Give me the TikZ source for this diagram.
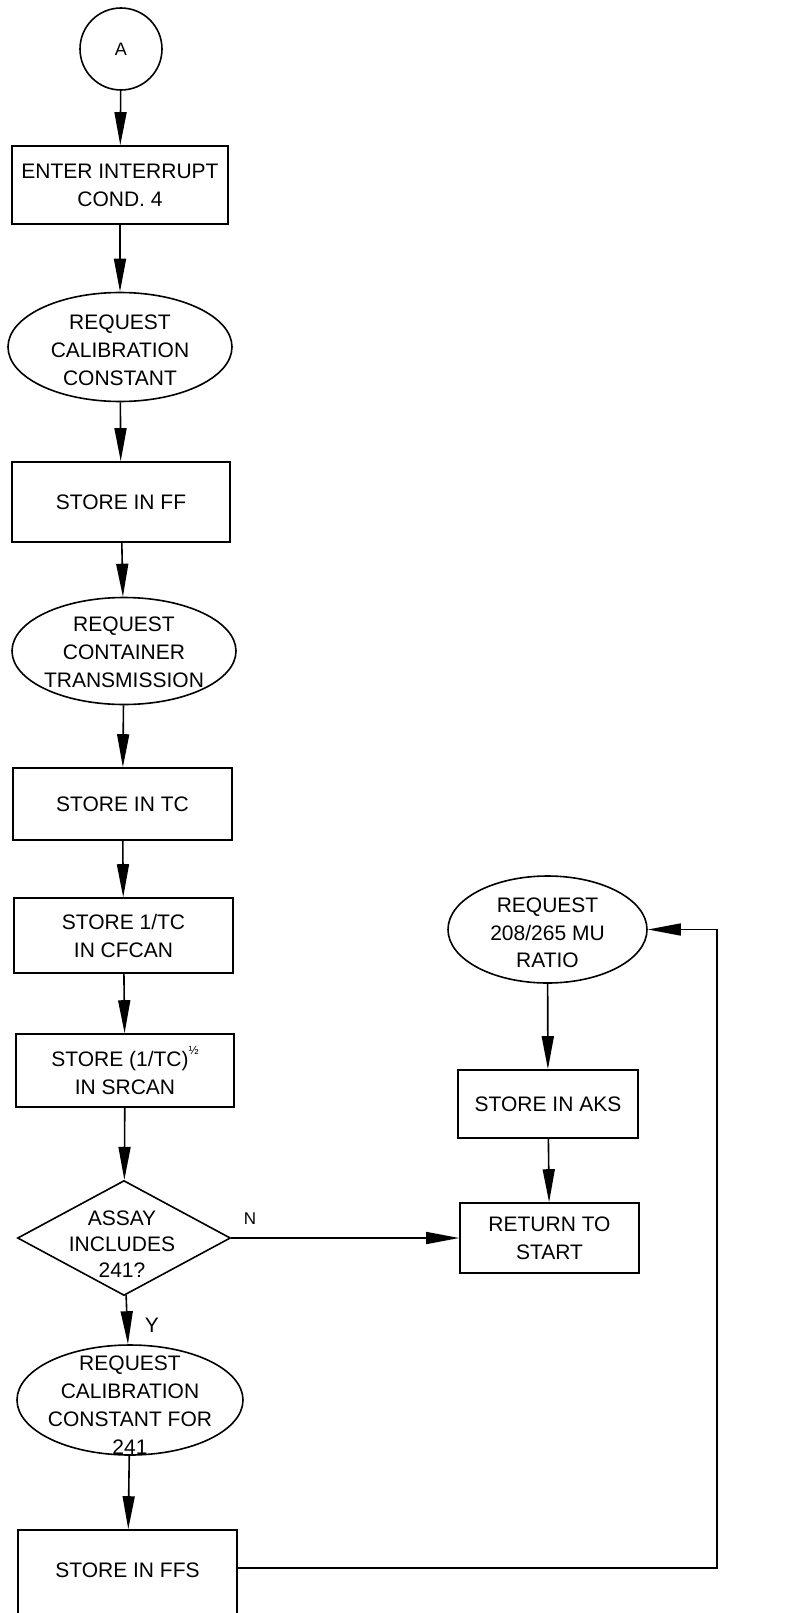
\documentclass[tikz,border=0pt]{standalone}
\usepackage{fontspec}
\setmainfont{Liberation Sans}
\usetikzlibrary{shapes.geometric,arrows.meta}
\begin{document}
\begin{tikzpicture}[x=1pt,y=-1pt,
  every node/.style={font=\fontsize{21}{28}\selectfont, align=center},
  lbl/.style={inner sep=0pt},
  box/.style={draw, line width=1.6pt, rectangle, inner sep=0pt},
  oval/.style={draw, line width=1.6pt, ellipse, inner sep=0pt},
  flow/.style={line width=1.6pt, -{Triangle[length=33pt,width=12pt]}},
  link/.style={line width=1.6pt}]
\useasboundingbox (0,0) rectangle (791,1613);
\clip (0,0) rectangle (791,1613);

% main column
\node[draw, circle, line width=1.6pt, minimum size=82pt, inner sep=0pt,
      font=\fontsize{18}{22}\selectfont] (a) at (121,49) {A};
\node[box, minimum width=216pt, minimum height=78pt] (enter) at (120,185) {ENTER INTERRUPT\\COND. 4};
\node[oval, minimum width=224pt, minimum height=109pt] (req1) at (120,347) {};
\node[lbl] (req1t) at (120,350) {REQUEST\\CALIBRATION\\CONSTANT};
\node[box, minimum width=218pt, minimum height=80pt] (ff) at (121,502) {STORE IN FF};
\node[oval, minimum width=224pt, minimum height=107pt] (req2) at (124,651) {};
\node[lbl] (req2t) at (124,652) {REQUEST\\CONTAINER\\TRANSMISSION};
\node[box, minimum width=219pt, minimum height=72pt] (tc) at (122.5,804) {STORE IN TC};
\node[box, minimum width=219pt, minimum height=75pt] (cfcan) at (123.5,935.5) {STORE 1/TC\\IN CFCAN};
\node[box, minimum width=218pt, minimum height=73pt] (srcan) at (125,1070.5)
  {STORE (1/TC)\raisebox{1.1ex}{\fontsize{12}{12}\selectfont ½}\\IN SRCAN};
\node[draw, diamond, line width=1.6pt, inner sep=0pt, aspect=1.85,
      minimum width=213pt, minimum height=115pt] (dec) at (124,1238) {};
\node[lbl, font=\fontsize{21}{26}\selectfont] (dect) at (122,1244) {ASSAY\\INCLUDES\\241?};
\node[oval, minimum width=226pt, minimum height=110pt] (req3) at (130,1400) {};
\node[lbl] (req3t) at (130,1405) {REQUEST\\CALIBRATION\\CONSTANT FOR\\241};
\node[box, minimum width=219pt, minimum height=110pt] (ffs) at (127.5,1585) {};
\node[lbl] (ffst) at (127.5,1570) {STORE IN FFS};

% right column
\node[oval, minimum width=199pt, minimum height=107pt] (req4) at (547.5,929.5) {};
\node[lbl, font=\fontsize{21}{27.5}\selectfont] (req4t) at (547.5,933) {REQUEST\\208/265 MU\\RATIO};
\node[box, minimum width=180pt, minimum height=68pt] (aks) at (548,1104) {STORE IN AKS};
\node[box, minimum width=179pt, minimum height=70pt] (ret) at (549.5,1238) {RETURN TO\\START};

% branch labels
\node[lbl] (ylab) at (152,1325) {Y};
\node[lbl, font=\fontsize{17}{20}\selectfont] (nlab) at (250,1219) {N};

\coordinate (turn) at (717,1568);

% connectors
\draw[flow] (a) -- (enter);
\draw[flow] (enter) -- (req1);
\draw[flow] (req1) -- (ff);
\draw[flow] (ff) -- (req2);
\draw[flow] (req2) -- (tc);
\draw[flow] (tc) -- (cfcan);
\draw[flow] (cfcan) -- (srcan);
\draw[flow] (srcan) -- (dec);
\draw[flow] (dec) -- (req3);
\draw[flow] (req3) -- (ffs);
\draw[flow] (dec.east) -- (ret.west);
\draw[flow] (ffs.east |- turn) -- (turn) -- (turn |- req4.east) -- (req4.east);
\draw[flow] (req4) -- (aks);
\draw[flow] (aks) -- (ret);
\end{tikzpicture}
\end{document}
